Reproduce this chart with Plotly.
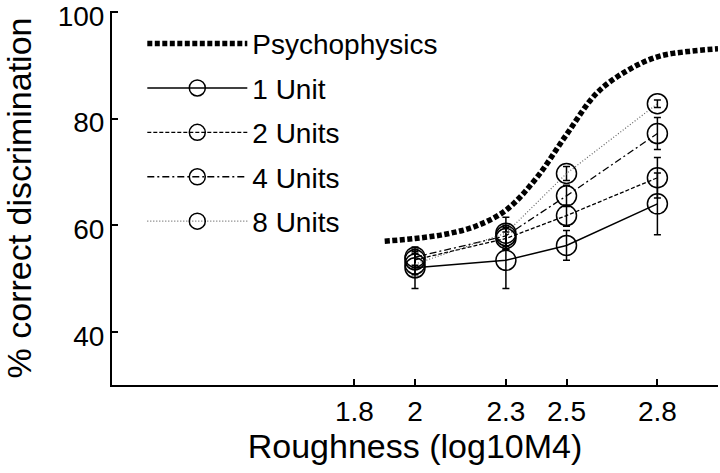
import plotly.graph_objects as go

# roughness levels tested (log10 M4)
roughness = [2.0, 2.3, 2.5, 2.8]

# psychophysical curve
psy_x = [1.9, 2.0, 2.1, 2.2, 2.3, 2.4, 2.5, 2.6, 2.7, 2.8, 2.9, 3.0]
psy_y = [57.0, 57.5, 58.3, 59.8, 62.8, 68.8, 77.0, 84.8, 89.0, 91.6, 92.6, 93.1]

# neural discrimination, % correct, with error bars
unit1 = [52.0, 53.4, 56.2, 64.0]
unit1_err = [3.9, 5.3, 2.8, 5.8]
unit2 = [53.5, 57.5, 61.8, 68.9]
unit2_err = [1.5, 2.0, 2.0, 3.8]
unit4 = [54.0, 58.0, 65.5, 77.2]
unit4_err = [1.5, 2.0, 2.0, 3.0]
unit8 = [52.7, 58.5, 69.7, 82.8]
unit8_err = [2.0, 3.0, 1.3, 0.7]

tick_vals = [1.8, 2, 2.3, 2.5, 2.8]
tick_text = ["1.8", "2", "2.3", "2.5", "2.8"]

FONT = "Liberation Sans, Arial, sans-serif"

fig = go.Figure()

fig.add_trace(go.Scatter(
    x=psy_x, y=psy_y, mode="lines", name="Psychophysics",
    line=dict(color="black", width=5.5, dash="5px,2.5px", shape="spline", smoothing=1.0),
    legendgroup="a",
))

series = [
    ("1 Unit", unit1, unit1_err, "solid", "black", 1.5),
    ("2 Units", unit2, unit2_err, "4px,2px", "black", 1.3),
    ("4 Units", unit4, unit4_err, "7px,3px,2px,3px", "black", 1.3),
    ("8 Units", unit8, unit8_err, "1px,2px", "#666666", 1.2),
]
for i, (name, vals, err, dash, col, lw) in enumerate(series):
    fig.add_trace(go.Scatter(
        x=roughness, y=vals, mode="lines+markers", name=name,
        line=dict(color=col, width=lw, dash=dash),
        marker=dict(symbol="circle-open", size=20, color="black",
                    line=dict(width=1.5, color="black")),
        error_y=dict(type="data", array=err, visible=True, color="black",
                     thickness=1.5, width=3.5),
        legendgroup="g%d" % i,
    ))

fig.update_layout(
    width=720, height=473,
    margin=dict(l=112, r=2, t=11, b=88),
    paper_bgcolor="white", plot_bgcolor="white",
    font=dict(family=FONT, size=28, color="black"),
    showlegend=True,
    legend=dict(x=0.05, y=0.979, xanchor="left", yanchor="top",
                bgcolor="rgba(0,0,0,0)", itemwidth=100,
                font=dict(size=28), tracegroupgap=5),
)
fig.update_xaxes(
    range=[1.0, 3.0], tickvals=tick_vals, ticktext=tick_text,
    showline=True, linecolor="black", linewidth=2, ticks="inside",
    ticklen=6, tickwidth=2, tickcolor="black", showgrid=False, zeroline=False,
    automargin=False,
    title=dict(text="Roughness (log10M4)", standoff=0),
)
fig.update_yaxes(
    range=[30, 100.2], tickvals=[40, 60, 80, 100],
    showline=True, linecolor="black", linewidth=2, ticks="inside",
    ticklen=6, tickwidth=2, tickcolor="black", showgrid=False, zeroline=False,
    automargin=False, ticklabeloverflow="allow", ticklabelshift=4,
    title=dict(text="% correct discrimination", standoff=22),
)

# page body has a default 8px margin; drop it so the figure sits at the corner
fig.write_html("out.html", config={"displayModeBar": False},
               post_script="document.body.style.margin='0';")
